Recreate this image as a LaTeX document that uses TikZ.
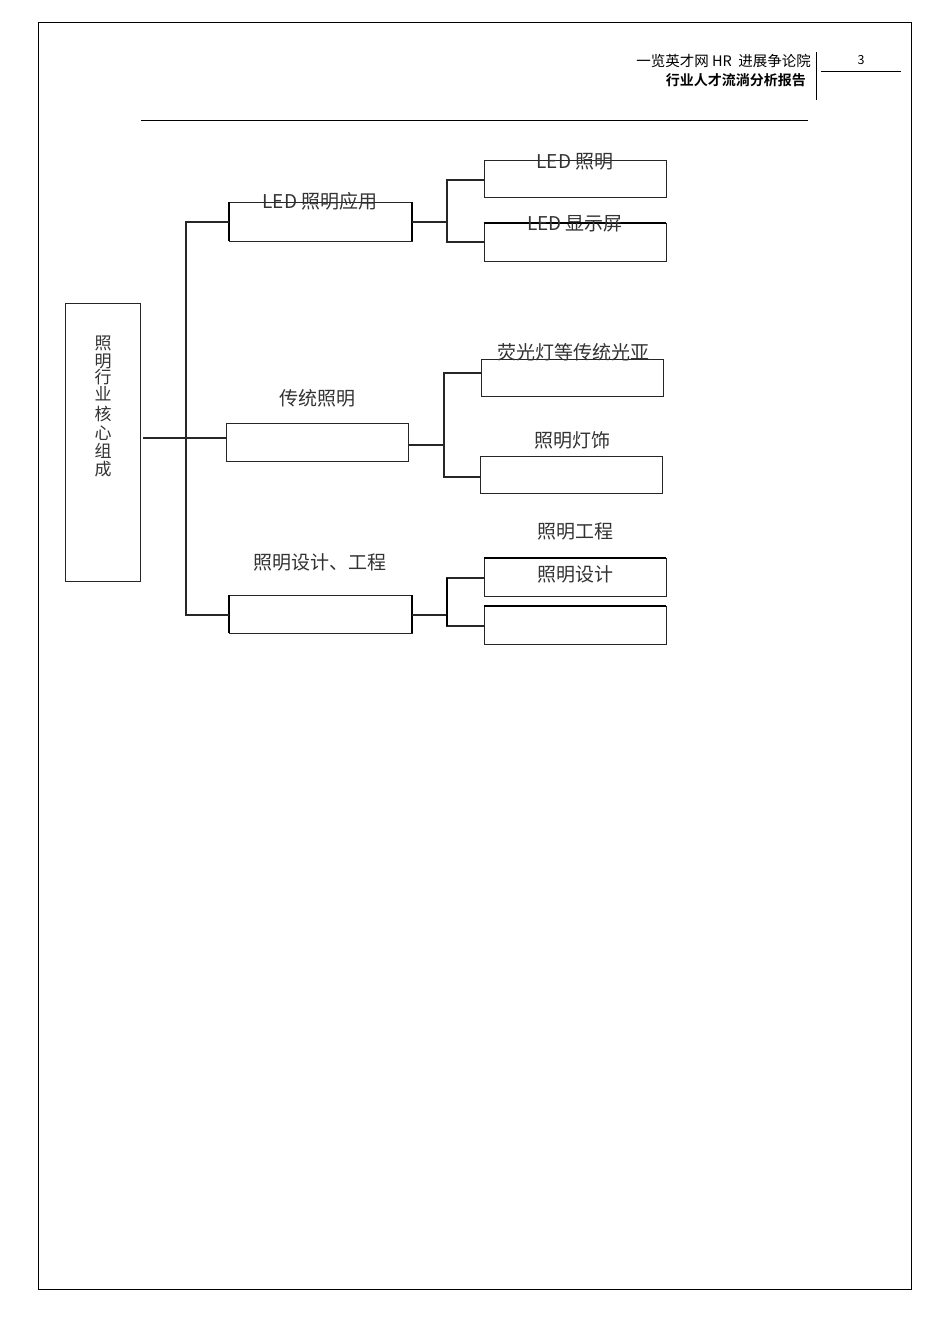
\documentclass[tikz,border=0pt]{standalone}
\usepackage{fontspec}
\setmainfont{Carlito}
\newfontfamily\cjk{Noto Sans CJK SC}
\newfontfamily\cjkb{Noto Sans CJK SC}[BoldFont={* Bold}]
\begin{document}
\begin{tikzpicture}[x=1pt,y=-1pt,
  box/.style={draw=black!85,line width=1pt},
  tbox/.style={draw=black,line width=1.5pt},
  conn/.style={draw=black!85,line width=1.1pt},
  lab/.style={font=\fontsize{19}{19}\selectfont\cjk,text=black!80,inner sep=0pt},
  vlab/.style={font=\fontsize{17}{17}\selectfont\cjk,text=black!80,inner sep=0pt},
  hdr/.style={font=\fontsize{14.5}{15}\selectfont\cjk,inner sep=0pt}]
\useasboundingbox (0,0) rectangle (950,1344);
\fill[white] (0,0) rectangle (950,1344);
% page border
\draw[black,line width=0.8pt] (38,22) rectangle (911,1289);
% header
\node[hdr,anchor=east] (h1) at (811,61) {一览英才网 HR\ \ 进展争论院};
\node[hdr,anchor=east,font=\fontsize{14}{14}\selectfont\cjkb\bfseries] (h2) at (806,80) {行业人才流淌分析报告};
\draw[line width=0.8pt] (816,52) -- (816,100);
\draw[line width=0.8pt] (821,71) -- (901,71);
\node[hdr,font=\fontsize{12.5}{12}\selectfont\cjk] (pg) at (861,60) {3};
\draw[line width=0.8pt] (141,120) -- (808,120);
% root
\draw[box] (65,303) rectangle (140,581);
\node[vlab] (r1) at (103,343) {照};
\node[vlab] (r2) at (103,361) {明};
\node[vlab] (r3) at (103,377) {行};
\node[vlab] (r4) at (103,394) {业};
\node[vlab] (r5) at (103,414) {核};
\node[vlab] (r6) at (103,433) {心};
\node[vlab] (r7) at (103,451) {组};
\node[vlab] (r8) at (103,469) {成};
\coordinate (root) at (143,438);
% level 1 boxes
\draw[box] (229,202) rectangle (412,241);
\draw[tbox] (229,202) -- (229,241) (412,202) -- (412,241);
\node[lab] (l1) at (320,201) {LED 照明应用};
\draw[box] (226,423) rectangle (408,461);
\node[lab] (l2) at (317,398) {传统照明};
\draw[box] (229,595) rectangle (412,633);
\draw[tbox] (229,595) -- (229,633) (412,595) -- (412,633);
\node[lab] (l3) at (320,562) {照明设计、工程};
% trunk
\coordinate (t1) at (186,222);
\coordinate (t3) at (186,615);
\draw[conn] (root) -- (226,438);
\draw[conn] (229,222) -- (t1) -- (t3) -- (229,615);
% children group 1
\draw[box] (484,160) rectangle (666,197);
\node[lab] (c1) at (575,162) {LED 照明};
\draw[box] (484,223) rectangle (666,261);
\draw[tbox] (484,223) -- (666,223);
\node[lab] (c2) at (575,224) {LED 显示屏};
\draw[conn] (412,222) -- (447,222);
\draw[conn,line width=1.8pt] (484,180) -- (447,180) -- (447,242) -- (484,242);
% children group 2
\draw[box] (481,359) rectangle (663,396);
\node[lab] (c3) at (573,352) {荧光灯等传统光亚};
\draw[box] (480,456) rectangle (662,493);
\node[lab] (c4) at (572,440) {照明灯饰};
\draw[conn] (408,445) -- (444,445);
\draw[conn] (481,373) -- (444,373) -- (444,477) -- (480,477);
% children group 3
\draw[box] (484,558) rectangle (666,596);
\draw[tbox] (484,558) -- (666,558);
\node[lab] (c5) at (575,574) {照明设计};
\node[lab] (c5b) at (575,531) {照明工程};
\draw[box] (484,606) rectangle (666,644);
\draw[tbox] (484,606) -- (666,606);
\draw[conn] (412,615) -- (447,615);
\draw[conn] (484,578) -- (447,578) -- (447,626) -- (484,626);
\draw[line width=1.8pt] (447,578) -- (447,626);
\end{tikzpicture}
\end{document}
